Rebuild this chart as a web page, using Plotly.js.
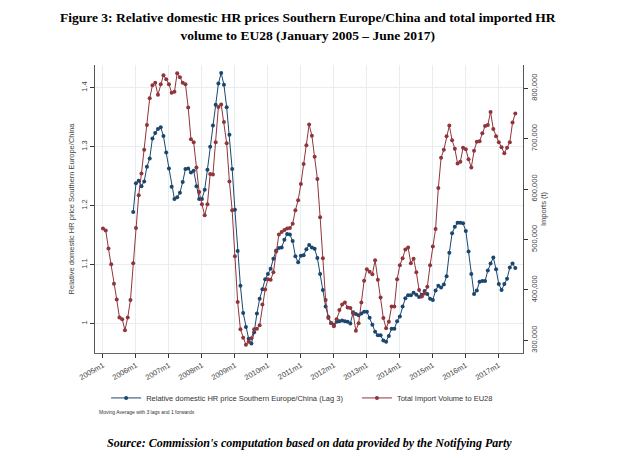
<!DOCTYPE html>
<html><head><meta charset="utf-8">
<script src="https://cdn.plot.ly/plotly-3.0.1.min.js"></script>
<style>body{margin:0;padding:0;background:#fff}#chart{width:617px;height:462px}</style>
</head><body><div id="chart"></div>
<script>
// Months counted from 2005m1 (index 0)
const yearTickLabels = ["2005m1","2006m1","2007m1","2008m1","2009m1","2010m1","2011m1","2012m1","2013m1","2014m1","2015m1","2016m1","2017m1"];

// Total Import Volume to EU28 (t), 2005m1 .. 2017m7
const importVolume = [
522000,518000,482000,451000,412000,381000,345000,342000,320000,345000,380000,453000,
523000,588000,631000,678000,727000,780000,806000,811000,787000,808000,826000,818000,
808000,791000,793000,830000,822000,811000,808000,762000,699000,693000,643000,594000,
570000,548000,570000,630000,629000,693000,763000,768000,733000,691000,615000,558000,
467000,376000,322000,305000,291000,297000,304000,322000,323000,330000,371000,401000,
421000,420000,435000,476000,510000,515000,519000,522000,523000,531000,558000,578000,
610000,650000,687000,728000,706000,664000,620000,544000,463000,380000,344000,334000,
328000,342000,360000,371000,375000,365000,364000,353000,319000,334000,375000,418000,
441000,436000,431000,459000,420000,385000,344000,324000,337000,367000,367000,421000,
449000,463000,480000,484000,453000,462000,435000,400000,387000,393000,406000,449000,
486000,521000,602000,662000,678000,705000,726000,697000,680000,651000,654000,682000,
679000,659000,643000,676000,694000,695000,711000,725000,727000,753000,719000,705000,
693000,683000,671000,682000,693000,732000,750000];

// Relative domestic HR price Southern Europe/China (Lag 3), starting 2005m12
const priceStartMonth = 11;
const priceRatio = [
1.189,
1.238,1.242,1.233,1.241,1.266,1.280,1.314,1.323,1.330,1.333,1.318,1.290,
1.263,1.232,1.211,1.214,1.222,1.240,1.262,1.263,1.256,1.259,1.233,1.211,
1.211,1.227,1.261,1.300,1.336,1.371,1.407,1.425,1.405,1.367,1.320,1.262,
1.193,1.123,1.064,1.018,0.994,0.974,0.966,0.985,1.017,1.042,1.058,1.075,
1.084,1.093,1.110,1.124,1.128,1.129,1.142,1.152,1.151,1.140,1.114,1.104,
1.115,1.116,1.126,1.133,1.129,1.127,1.111,1.084,1.057,1.029,1.011,1.001,
0.998,1.003,1.004,1.005,1.004,1.003,1.000,1.019,1.016,1.014,1.017,1.020,
1.020,1.010,0.998,0.986,0.980,0.980,0.971,0.969,0.979,0.991,0.991,1.004,
1.012,1.029,1.043,1.048,1.048,1.052,1.049,1.045,1.049,1.055,1.050,1.042,
1.040,1.056,1.064,1.061,1.066,1.080,1.120,1.153,1.164,1.171,1.171,1.170,
1.157,1.122,1.084,1.050,1.056,1.071,1.072,1.072,1.090,1.102,1.112,1.092,
1.067,1.057,1.067,1.076,1.095,1.102,1.094];

const leftTickVals = [1, 1.1, 1.2, 1.3, 1.4];
const leftTickText = ["1", "1.1", "1.2", "1.3", "1.4"];
const rightTickVals = [300000, 400000, 500000, 600000, 700000, 800000];
const rightTickText = ["300,000", "400,000", "500,000", "600,000", "700,000", "800,000"];

const xImport = importVolume.map((_, i) => i);
const xPrice = priceRatio.map((_, i) => i + priceStartMonth);
const xTickVals = yearTickLabels.map((_, i) => i * 12);

const navy = '#1a476f';
const maroon = '#90353b';
const gridColor = '#e6eef0';

const traces = [
  {
    x: xPrice, y: priceRatio, yaxis: 'y', type: 'scatter', mode: 'lines+markers',
    name: 'Relative domestic HR price Southern Europe/China (Lag 3)',
    line: {color: navy, width: 1}, marker: {color: navy, size: 4},
    legend: 'legend', showlegend: true
  },
  {
    x: xImport, y: importVolume, yaxis: 'y2', type: 'scatter', mode: 'lines+markers',
    name: 'Total Import Volume to EU28',
    line: {color: maroon, width: 1}, marker: {color: maroon, size: 4},
    legend: 'legend2', showlegend: true
  }
];

const axisFont = {family: 'Liberation Sans, Arial, sans-serif', size: 7.5, color: '#444'};

const layout = {
  width: 617, height: 462,
  showlegend: true,
  margin: {l: 95, r: 94, t: 65, b: 109, pad: 0},
  paper_bgcolor: '#ffffff', plot_bgcolor: '#ffffff',
  font: {family: 'Liberation Sans, Arial, sans-serif', size: 8, color: '#333'},
  xaxis: {
    range: [-2.9, 152.8], tickmode: 'array', tickvals: xTickVals, ticktext: yearTickLabels,
    tickangle: -30, ticks: 'outside', ticklen: 4, tickcolor: '#333', tickwidth: 1,
    showgrid: true, gridcolor: gridColor, gridwidth: 1,
    showline: true, linecolor: '#666', linewidth: 1.2, zeroline: false,
    tickfont: axisFont
  },
  yaxis: {
    range: [0.950, 1.4385], tickmode: 'array', tickvals: leftTickVals, ticktext: leftTickText,
    tickangle: -90, ticks: 'outside', ticklen: 4, tickcolor: '#333', tickwidth: 1,
    showgrid: true, gridcolor: gridColor, gridwidth: 1,
    showline: true, linecolor: '#555', linewidth: 1.2, zeroline: false,
    tickfont: axisFont,
    title: {text: 'Relative domestic HR price Southern Europe/China', font: {size: 7.5, color: '#444'}, standoff: 4}
  },
  yaxis2: {
    overlaying: 'y', side: 'right',
    range: [274800, 846200], tickmode: 'array', tickvals: rightTickVals, ticktext: rightTickText,
    tickangle: -90, ticks: 'outside', ticklen: 4, tickcolor: '#333', tickwidth: 1,
    showgrid: false, showline: true, linecolor: '#555', linewidth: 1.2, zeroline: false,
    tickfont: axisFont,
    title: {text: 'Imports (t)', font: {size: 7.5, color: '#444'}, standoff: 1}
  },
  legend: {
    visible: true,
    x: 0.026, y: -0.156, xanchor: 'left', yanchor: 'middle', orientation: 'h',
    font: {size: 7.5, color: '#333'}, bgcolor: 'rgba(0,0,0,0)', itemwidth: 30
  },
  legend2: {
    visible: true,
    x: 0.612, y: -0.156, xanchor: 'left', yanchor: 'middle', orientation: 'h',
    font: {size: 7.5, color: '#333'}, bgcolor: 'rgba(0,0,0,0)', itemwidth: 30
  },
  annotations: [
    {
      text: '<b>Figure 3: Relative domestic HR prices Southern Europe/China and total imported HR<br>volume to EU28 (January 2005 – June 2017)</b>',
      xref: 'paper', yref: 'paper', x: 0.498, y: 1.135, xanchor: 'center', yanchor: 'middle',
      showarrow: false, align: 'center',
      font: {family: 'Liberation Serif, Times New Roman, serif', size: 13.5, color: '#000'}
    },
    {
      text: 'Moving Average with 3 lags and 1 forwards', xref: 'paper', yref: 'paper',
      x: 0.005, y: -0.205, xanchor: 'left', yanchor: 'middle', showarrow: false,
      font: {size: 5, color: '#333'}
    },
    {
      text: "<b><i>Source: Commission's computation based on data provided by the Notifying Party</i></b>",
      xref: 'paper', yref: 'paper', x: 0.5, y: -0.3125, xanchor: 'center', yanchor: 'middle',
      showarrow: false, font: {family: 'Liberation Serif, Times New Roman, serif', size: 12, color: '#000'}
    }
  ]
};

Plotly.newPlot('chart', traces, layout, {displayModeBar: false, staticPlot: true});
</script>
</body></html>
